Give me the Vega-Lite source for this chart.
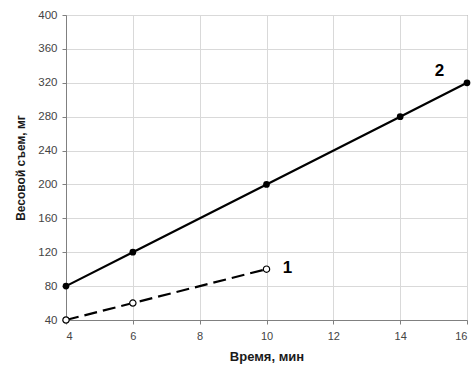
{
  "$schema": "https://vega.github.io/schema/vega-lite/v6.json",
  "width": 401,
  "height": 305,
  "autosize": {"type": "none"},
  "padding": {"left": 66, "top": 15, "right": 4, "bottom": 50},
  "background": "white",
  "config": {
    "font": "Liberation Sans",
    "view": {"stroke": "#808080", "strokeWidth": 1},
    "axis": {
      "gridColor": "#d9d9d9",
      "domainColor": "#808080",
      "tickColor": "#808080",
      "tickSize": 4,
      "labelColor": "#444444",
      "labelFontSize": 11,
      "labelFont": "Liberation Sans",
      "titleFont": "Liberation Sans",
      "titleFontSize": 12,
      "titleFontWeight": "bold",
      "titleColor": "#1a1a1a"
    }
  },
  "datasets": {
    "s": [
      {"series": "2", "t": 4, "m": 80},
      {"series": "2", "t": 6, "m": 120},
      {"series": "2", "t": 10, "m": 200},
      {"series": "2", "t": 14, "m": 280},
      {"series": "2", "t": 16, "m": 320},
      {"series": "1", "t": 4, "m": 40},
      {"series": "1", "t": 6, "m": 60},
      {"series": "1", "t": 10, "m": 100}
    ],
    "labels": [
      {"label": "1", "t": 10.63, "m": 101},
      {"label": "2", "t": 15.18, "m": 334}
    ]
  },
  "encoding": {
    "x": {
      "field": "t", "type": "quantitative",
      "scale": {"domain": [4, 16], "nice": false},
      "axis": {"values": [4, 6, 8, 10, 12, 14, 16], "title": "Время, мин", "labelPadding": 6, "titlePadding": 9, "titleFontSize": 13}
    },
    "y": {
      "field": "m", "type": "quantitative",
      "scale": {"domain": [40, 400], "nice": false, "zero": false},
      "axis": {"values": [40, 80, 120, 160, 200, 240, 280, 320, 360, 400], "title": "Весовой съем, мг", "labelPadding": 5, "titlePadding": 10, "labelFontSize": 11.5}
    }
  },
  "layer": [
    {
      "data": {"name": "s"},
      "transform": [{"filter": "datum.series === '2'"}],
      "mark": {"type": "line", "color": "black", "strokeWidth": 2.2}
    },
    {
      "data": {"name": "s"},
      "transform": [{"filter": "datum.series === '1'"}],
      "mark": {"type": "line", "color": "black", "strokeWidth": 2.2, "strokeDash": [13, 6]}
    },
    {
      "data": {"name": "s"},
      "transform": [{"filter": "datum.series === '2'"}],
      "mark": {"type": "point", "filled": true, "color": "black", "size": 45, "opacity": 1}
    },
    {
      "data": {"name": "s"},
      "transform": [{"filter": "datum.series === '1'"}],
      "mark": {"type": "point", "filled": true, "fill": "white", "stroke": "black", "strokeWidth": 1.2, "size": 40, "opacity": 1}
    },
    {
      "data": {"name": "labels"},
      "mark": {"type": "text", "fontSize": 17, "fontWeight": "bold", "color": "black", "align": "center", "baseline": "middle"},
      "encoding": {"text": {"field": "label"}}
    }
  ]
}
